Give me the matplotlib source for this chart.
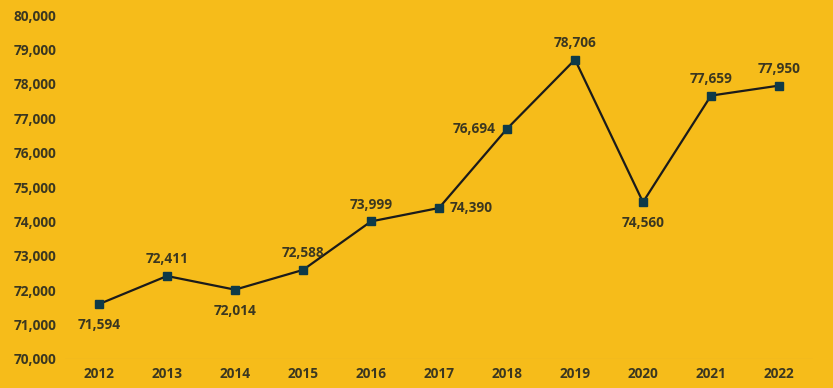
import matplotlib.pyplot as plt
from matplotlib.ticker import FuncFormatter

years = ['2012', '2013', '2014', '2015', '2016', '2017', '2018', '2019', '2020', '2021', '2022']
values = [71594, 72411, 72014, 72588, 73999, 74390, 76694, 78706, 74560, 77659, 77950]
label_pos = ['below', 'above', 'below', 'above', 'above', 'right', 'left', 'above', 'below', 'above', 'above']

BG = '#F6BC1A'
TEXT = '#3B3720'

plt.rcParams['font.family'] = ['Open Sans', 'DejaVu Sans']

fig = plt.figure(figsize=(8.33, 3.88), dpi=100, facecolor=BG)
ax = fig.add_axes([0.078, 0.075, 0.898, 0.886], facecolor=BG)

x = list(range(len(years)))
ax.plot(x, values, color='#1B1B1B', linewidth=1.6, marker='s', markersize=6,
        markerfacecolor='#0E3A48', markeredgecolor='#0E3A48', zorder=3)

offsets = {'above': (0, 7, 'center', 'bottom'),
           'below': (0, -10, 'center', 'top'),
           'right': (8, 0, 'left', 'center'),
           'left': (-8, 0, 'right', 'center')}
for xi, v, pos in zip(x, values, label_pos):
    dx, dy, ha, va = offsets[pos]
    ax.annotate(f'{v:,}', (xi, v), xytext=(dx, dy), textcoords='offset points',
                ha=ha, va=va, fontsize=9.8, fontweight='bold', color=TEXT)

ax.set_xlim(-0.5, len(years) - 0.5)
ax.set_ylim(70000, 80000)
ax.set_yticks(range(70000, 80001, 1000))
ax.yaxis.set_major_formatter(FuncFormatter(lambda v, p: f'{int(v):,}'))
ax.set_xticks(x)
ax.set_xticklabels(years)

for s in ax.spines.values():
    s.set_visible(False)
ax.axhline(70000, color='#E9B429', linewidth=1, zorder=1)
ax.tick_params(length=0, labelsize=9.8, labelcolor=TEXT, pad=6)
for lbl in ax.get_xticklabels() + ax.get_yticklabels():
    lbl.set_fontweight('bold')

fig.savefig('out.png', dpi=100, facecolor=BG)
